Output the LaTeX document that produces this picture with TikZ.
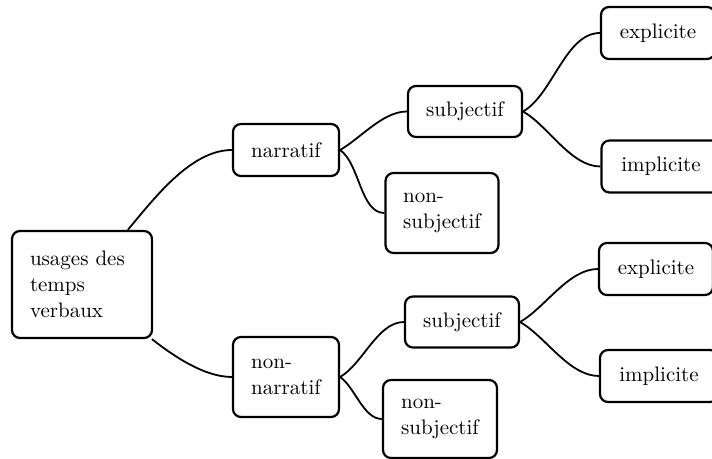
\documentclass[tikz,border=0pt]{standalone}
\begin{document}
\begin{tikzpicture}[x=0.5pt,y=0.5pt,
  box/.style={draw,line width=1.1pt,rounded corners=4pt,align=left,inner sep=0pt,
    font=\fontsize{10.5}{13}\selectfont},
  link/.style={line width=0.9pt,looseness=0.8}]
  \useasboundingbox (0,0) rectangle (712,-459);
  \node[box,minimum width=70pt,minimum height=53.5pt,text width=52pt] (usages) at (82,-284.5) {usages des\\temps\\verbaux};
  \node[box,minimum width=53pt,minimum height=26pt] (narr) at (286,-150) {narratif};
  \node[box,minimum width=53pt,minimum height=40pt] (nonnarr) at (286,-377) {non-\\narratif};
  \node[box,minimum width=57pt,minimum height=25.5pt] (subjA) at (465,-111.5) {subjectif};
  \node[box,minimum width=56.5pt,minimum height=40pt] (nonsubjA) at (442,-213) {non-\\subjectif};
  \node[box,minimum width=57pt,minimum height=26pt] (explA) at (658,-33) {explicite};
  \node[box,minimum width=59.5pt,minimum height=26pt] (implA) at (661,-166.5) {implicite};
  \node[box,minimum width=57pt,minimum height=25.5pt] (subjB) at (462,-322) {subjectif};
  \node[box,minimum width=57pt,minimum height=39pt] (nonsubjB) at (440,-419) {non-\\subjectif};
  \node[box,minimum width=57pt,minimum height=26pt] (explB) at (656,-269) {explicite};
  \node[box,minimum width=59pt,minimum height=26pt] (implB) at (659,-376) {implicite};
  \draw[link] (usages) to[out=50,in=180] (narr.west);
  \draw[link] (usages) to[out=-38,in=180] (nonnarr.west);
  \draw[link] (narr.east) to[out=30,in=180] (subjA.west);
  \draw[link] (narr.east) to[out=-35,in=180] (nonsubjA.west);
  \draw[link] (subjA.east) to[out=30,in=180] (explA.west);
  \draw[link] (subjA.east) to[out=-30,in=180] (implA.west);
  \draw[link] (nonnarr.east) to[out=30,in=180] (subjB.west);
  \draw[link] (nonnarr.east) to[out=-35,in=180] (nonsubjB.west);
  \draw[link] (subjB.east) to[out=30,in=180] (explB.west);
  \draw[link] (subjB.east) to[out=-30,in=180] (implB.west);
\end{tikzpicture}
\end{document}
